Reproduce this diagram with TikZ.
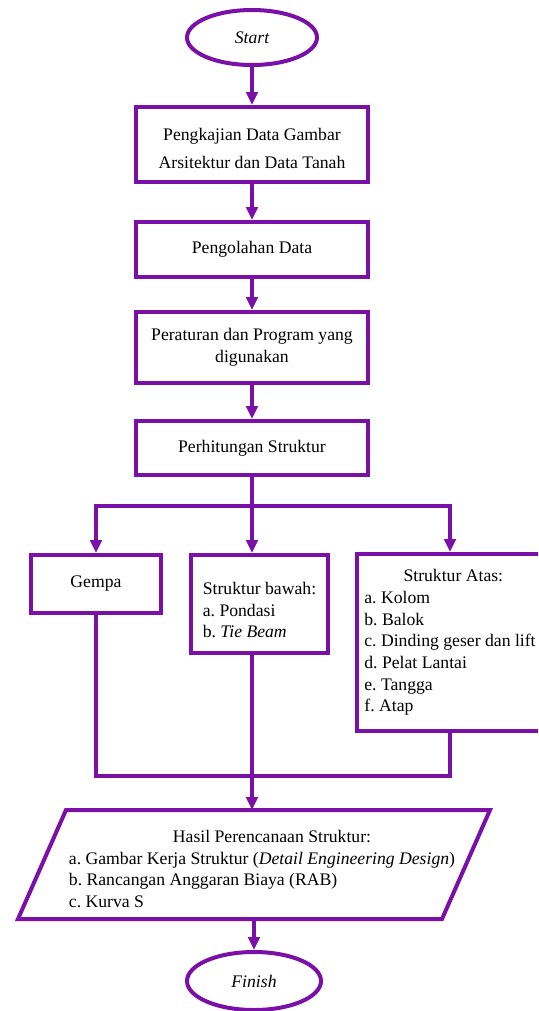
\documentclass[tikz,border=0pt]{standalone}
\usepackage{fontspec}
\setmainfont{Liberation Serif}
\usetikzlibrary{shapes.geometric,arrows.meta}
\definecolor{flowpurple}{RGB}{122,16,168}
\frenchspacing

\begin{document}
\begin{tikzpicture}[x=0.6pt,y=-0.6pt,
    font=\fontsize{10.6}{13}\selectfont,
    proc/.style={rectangle,draw=flowpurple,line width=2.4pt,minimum width=139.2pt,align=center,inner sep=2pt},
    term/.style={ellipse,draw=flowpurple,line width=2.4pt,font=\fontsize{10.6}{13}\selectfont\itshape},
    link/.style={draw=flowpurple,line width=2.4pt,line cap=rect},
    flowarrow/.style={link,-{Triangle[length=7.8pt,width=7pt]}}]
    \clip (0,0) rectangle (538,1011);
    % main column
    \node[term,minimum width=78pt,minimum height=33pt] (start) at (252,37.5) {Start};
    \node[proc,minimum height=45pt,font=\fontsize{10.6}{17}\selectfont] (kaji) at (252,144.5) {\rule{0pt}{12pt}Pengkajian Data Gambar\\Arsitektur dan Data Tanah};
    \node[proc,minimum height=33pt] (olah) at (252,249.5) {Pengolahan Data};
    \node[proc,minimum height=42.6pt] (aturan) at (252,347.5) {Peraturan dan Program yang\\digunakan};
    \node[proc,minimum height=32.4pt] (hitung) at (252,448) {Perhitungan Struktur};
    % three branches
    \node[proc,minimum width=78pt,minimum height=34.8pt] (gempa) at (96,584) {Gempa};
    \node[proc,minimum width=82.2pt,minimum height=58.8pt,align=left] (bawah) at (259.5,604) {\rule{0pt}{14.8pt}Struktur bawah:\\a. Pondasi\\b. \textit{Tie Beam}};
    \node[proc,minimum width=111.6pt,minimum height=106.2pt] (atas) at (450,642.5) {\begin{tabular}{@{}l@{}}
        \multicolumn{1}{@{\hspace{4pt}}c@{}}{Struktur Atas:}\\
        a. Kolom\\
        b. Balok\\
        c. Dinding geser dan lift\\
        d. Pelat Lantai\\
        e. Tangga\\
        f. Atap
    \end{tabular}};
    % result
    \node[rectangle,minimum width=283.2pt,minimum height=65.4pt,inner sep=0pt,outer sep=0pt] (hasil) at (254,864.5) {\begin{tabular}{@{\hspace{9.6pt}}l@{}}
        \multicolumn{1}{@{\hspace{21.6pt}}c@{}}{\rule{0pt}{16.3pt}Hasil Perencanaan Struktur:}\\
        a. Gambar Kerja Struktur (\textit{Detail Engineering Design})\\
        b. Rancangan Anggaran Biaya (RAB)\\
        c. Kurva S
    \end{tabular}};
    \draw[link,line cap=butt] ([xshift=28.8pt]hasil.north west) -- (hasil.north east)
        -- ([xshift=-28.8pt]hasil.south east) -- (hasil.south west) -- cycle;
    \node[term,minimum width=80.4pt,minimum height=34.8pt] (finish) at (254,981) {Finish};
    \coordinate (fork) at (252,506);
    \coordinate (merge) at (252,776);
    % connectors
    \draw[flowarrow] (start) -- (kaji);
    \draw[flowarrow] (kaji) -- (olah);
    \draw[flowarrow] (olah) -- (aturan);
    \draw[flowarrow] (aturan) -- (hitung);
    \draw[link] (hitung) -- (fork);
    \draw[flowarrow] (fork) -| (gempa);
    \draw[flowarrow] (fork) -| (atas);
    \draw[flowarrow] (fork) -- (fork |- bawah.north);
    \draw[link] (gempa) |- (merge);
    \draw[link] (atas) |- (merge);
    \draw[link] (fork |- bawah.south) -- (merge);
    \draw[flowarrow] (merge) -- (merge |- hasil.north);
    \draw[flowarrow] (hasil) -- (finish);
\end{tikzpicture}
\end{document}
